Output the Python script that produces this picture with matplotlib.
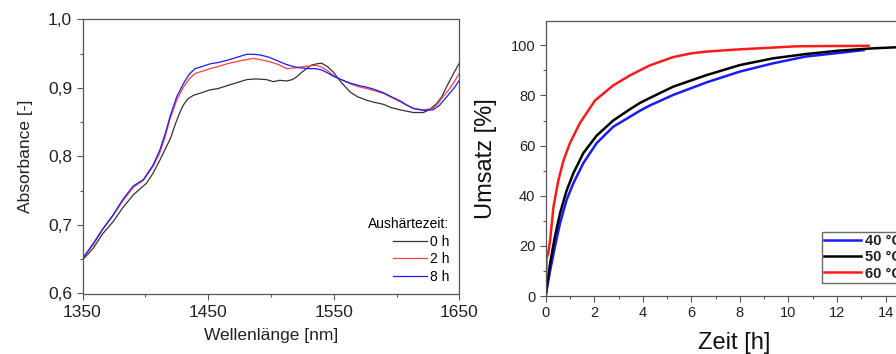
import matplotlib
matplotlib.use("Agg")
import matplotlib.pyplot as plt
from matplotlib.ticker import MultipleLocator

plt.rcParams['font.family'] = ['Liberation Sans', 'DejaVu Sans']

# ---------------- Left panel data: absorbance spectra ----------------
wl_0h = [1350, 1358.6, 1366, 1374.5, 1382, 1390.5, 1401, 1406, 1411.7, 1417, 1420, 1423.7,
         1427, 1430.3, 1434, 1438.2, 1445, 1451.5, 1458, 1464.8, 1472, 1480.7, 1488, 1496.6,
         1502, 1507, 1512.6, 1517, 1520.5, 1524, 1528.5, 1532, 1536.4, 1540.4, 1545, 1549.7,
         1556, 1563, 1569, 1576.2, 1582, 1589.5, 1596, 1602.8, 1608, 1613.4, 1621.4, 1626,
         1632, 1636, 1640, 1646, 1650]
abs_0h = [0.649, 0.666, 0.687, 0.705, 0.725, 0.744, 0.761, 0.775, 0.795, 0.815, 0.826, 0.846,
          0.862, 0.875, 0.884, 0.889, 0.893, 0.897, 0.899, 0.903, 0.907, 0.912, 0.913, 0.912,
          0.909, 0.911, 0.910, 0.912, 0.916, 0.922, 0.928, 0.933, 0.935, 0.936, 0.931, 0.923,
          0.908, 0.894, 0.887, 0.882, 0.879, 0.876, 0.871, 0.868, 0.866, 0.864, 0.864, 0.868,
          0.877, 0.887, 0.902, 0.923, 0.936]

wl_2h = [1350, 1358.6, 1366, 1374.5, 1382, 1390.5, 1398.4, 1406.4, 1411.7, 1416, 1419.7, 1425,
         1430.3, 1435, 1439.6, 1445, 1451.5, 1458, 1464.8, 1472, 1480, 1486, 1492, 1499.3,
         1506, 1512.6, 1519, 1525.8, 1531, 1536, 1540.4, 1545, 1549.7, 1556, 1563, 1569,
         1576.2, 1582, 1589.5, 1596, 1602.8, 1608, 1613.4, 1621.4, 1629, 1633, 1637, 1642,
         1646, 1650]
abs_2h = [0.651, 0.671, 0.693, 0.714, 0.735, 0.755, 0.765, 0.786, 0.806, 0.830, 0.855, 0.882,
          0.901, 0.913, 0.921, 0.924, 0.928, 0.931, 0.935, 0.938, 0.941, 0.943, 0.941, 0.938,
          0.934, 0.928, 0.929, 0.931, 0.932, 0.933, 0.930, 0.925, 0.918, 0.912, 0.906, 0.902,
          0.899, 0.896, 0.892, 0.886, 0.880, 0.875, 0.870, 0.868, 0.870, 0.877, 0.887, 0.898,
          0.909, 0.921]

wl_8h = [1350, 1358.6, 1366, 1374.5, 1382, 1390.5, 1398.4, 1406.4, 1411.7, 1416, 1419.7, 1425,
         1430.3, 1435, 1439.6, 1445, 1451.5, 1458, 1464.8, 1472, 1480.7, 1486, 1491.3, 1498,
         1504.6, 1511, 1517.9, 1524, 1531.1, 1536, 1540.4, 1545, 1549.7, 1556, 1563, 1569,
         1576.2, 1582, 1589.5, 1596, 1602.8, 1608, 1613.4, 1621.4, 1629, 1634, 1640, 1646,
         1650]
abs_8h = [0.651, 0.673, 0.694, 0.715, 0.737, 0.757, 0.766, 0.788, 0.810, 0.834, 0.858, 0.887,
          0.906, 0.920, 0.928, 0.931, 0.935, 0.937, 0.940, 0.944, 0.949, 0.949, 0.948, 0.945,
          0.940, 0.935, 0.931, 0.929, 0.928, 0.928, 0.926, 0.922, 0.917, 0.912, 0.907, 0.904,
          0.901, 0.898, 0.893, 0.887, 0.881, 0.875, 0.870, 0.867, 0.868, 0.874, 0.887, 0.900,
          0.911]

left_labels = ['0 h', '2 h', '8 h']
left_legend_title = 'Aushärtezeit:'
left_xticks = [1350, 1450, 1550, 1650]
left_yticks = [0.6, 0.7, 0.8, 0.9, 1.0]
left_yticklabels = ['0,6', '0,7', '0,8', '0,9', '1,0']

# ---------------- Right panel data: conversion vs time ----------------
t_40 = [0, 0.05, 0.18, 0.38, 0.59, 0.86, 1.14, 1.55, 2.1, 2.78, 3.47, 3.88, 4.29, 5.25,
        6.62, 7.99, 9.36, 10.7, 12.1, 13.1]
u_40 = [0, 3, 10, 19.7, 29, 38.3, 45, 53, 61, 67.5, 71.5, 73.9, 76, 80.2,
        85.2, 89.5, 92.8, 95.5, 97, 98.1]

t_50 = [0, 0.05, 0.18, 0.38, 0.59, 0.86, 1.14, 1.55, 2.1, 2.78, 3.47, 3.88, 4.29, 5.25,
        6.62, 7.99, 9.36, 10.7, 12.1, 13.5, 14.4, 15.0]
u_50 = [0, 4, 13, 23.7, 33, 42, 49, 57, 64, 70, 74.5, 77, 79, 83.5,
        88.1, 92.1, 94.8, 96.5, 97.9, 98.8, 99.2, 99.3]

t_60 = [0, 0.03, 0.1, 0.18, 0.32, 0.52, 0.73, 1.0, 1.41, 2.03, 2.78, 3.47, 4.29, 5.25,
        6.0, 6.62, 7.99, 9.0, 10.3, 11.5, 13.3]
u_60 = [0, 15, 17, 22, 35.6, 46, 54, 61, 69, 78, 84, 88, 92, 95.3,
        96.8, 97.5, 98.4, 98.9, 99.6, 99.7, 99.8]

right_labels = ['40 °C', '50 °C', '60 °C']

W, H = 896, 354
fig = plt.figure(figsize=(W / 100, H / 100), dpi=100)

spine_col = '#555555'

# ---------------- Left axes ----------------
axL = fig.add_axes([82.5 / W, 1 - 293.5 / H, (459.3 - 82.5) / W, (293.5 - 19.3) / H])
axL.plot(wl_0h, abs_0h, color='#333333', lw=0.9, label=left_labels[0])
axL.plot(wl_2h, abs_2h, color='#ff4040', lw=0.9, label=left_labels[1])
axL.plot(wl_8h, abs_8h, color='#1a1aff', lw=0.9, label=left_labels[2])
axL.set_xlim(1350, 1650)
axL.set_ylim(0.6, 1.0)
axL.set_xticks(left_xticks)
axL.set_yticks(left_yticks)
axL.set_yticklabels(left_yticklabels)
axL.xaxis.set_minor_locator(MultipleLocator(50))
axL.yaxis.set_minor_locator(MultipleLocator(0.05))
axL.tick_params(which='both', direction='out', colors='#222222', labelsize=12.5)
axL.tick_params(which='major', length=4, width=0.8, color=spine_col)
axL.tick_params(which='minor', length=2, width=0.8, color=spine_col)
axL.tick_params(axis='x', pad=4)
for s in axL.spines.values():
    s.set_color(spine_col)
    s.set_linewidth(0.9)
axL.set_xlabel('Wellenlänge [nm]', fontsize=12.5, color='#222222', labelpad=6)
axL.set_ylabel('Absorbance [-]', fontsize=12.5, color='#222222', labelpad=11)
legL = axL.legend(title=left_legend_title, loc='lower right', frameon=False,
                  fontsize=10, title_fontsize=10, handlelength=2.4, handletextpad=0.25,
                  labelspacing=0.25, borderaxespad=0.3, alignment='right',
                  bbox_to_anchor=(1.0, 0.0))

# ---------------- Right axes ----------------
axR = fig.add_axes([545.7 / W, 1 - 296 / H, (922 - 545.7) / W, (296 - 21.5) / H])
axR.plot(t_40, u_40, color='#1a1aff', lw=1.8, label=right_labels[0])
axR.plot(t_50, u_50, color='#000000', lw=1.8, label=right_labels[1])
axR.plot(t_60, u_60, color='#ff1a1a', lw=1.8, label=right_labels[2])
axR.set_xlim(0, 15.5)
axR.set_ylim(0, 109.5)
axR.xaxis.set_major_locator(MultipleLocator(2))
axR.xaxis.set_minor_locator(MultipleLocator(1))
axR.yaxis.set_major_locator(MultipleLocator(20))
axR.yaxis.set_minor_locator(MultipleLocator(10))
axR.tick_params(which='both', direction='out', colors='#222222', labelsize=10.5)
axR.tick_params(which='major', length=4, width=0.8, color=spine_col)
axR.tick_params(which='minor', length=2, width=0.8, color=spine_col)
for s in axR.spines.values():
    s.set_color(spine_col)
    s.set_linewidth(0.9)
axR.set_xlabel('Zeit [h]', fontsize=17, color='#111111', labelpad=8)
axR.set_ylabel('Umsatz [%]', fontsize=17, color='#111111', labelpad=10)
legR = axR.legend(loc='upper left', bbox_to_anchor=(822 / W, 1 - 232 / H),
                  bbox_transform=fig.transFigure, fontsize=10.5, frameon=True,
                  fancybox=False, handlelength=2.5, handletextpad=0.3,
                  labelspacing=0.15, borderpad=0.15, borderaxespad=0)
legR.get_frame().set_edgecolor('#444444')
legR.get_frame().set_linewidth(1.0)
for txt in legR.get_texts():
    txt.set_fontweight('bold')
    txt.set_color('#222222')

fig.savefig('out.png', dpi=100)
